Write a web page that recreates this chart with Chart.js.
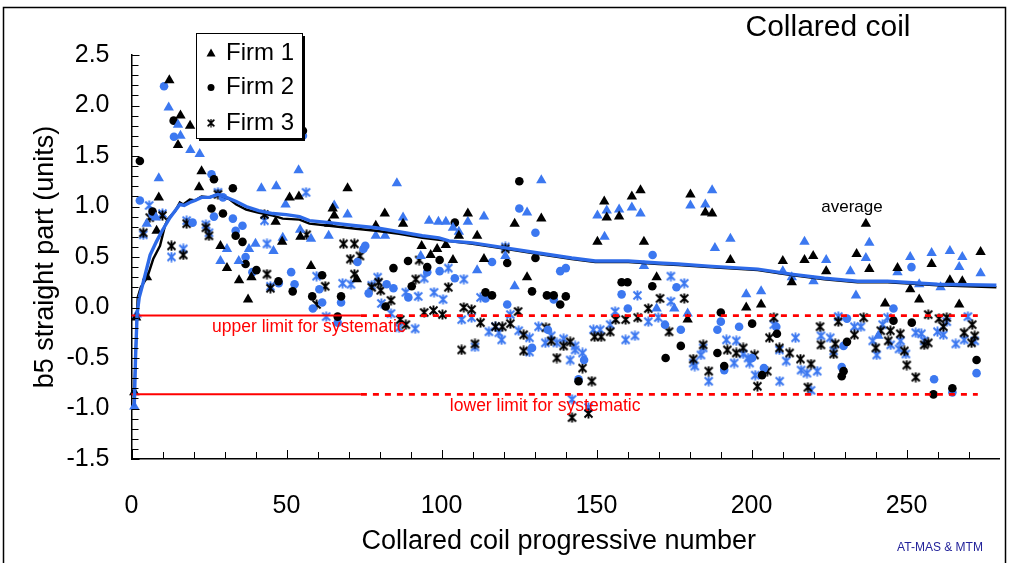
<!DOCTYPE html>
<html><head><meta charset="utf-8">
<script src="https://cdn.jsdelivr.net/npm/chart.js@4.4.0/dist/chart.umd.min.js"></script>
<style>html,body{margin:0;padding:0;background:#fff;overflow:hidden}#wrap{width:1010px;height:563px;position:relative}</style>
</head><body><div id="wrap"><canvas id="c" width="1010" height="563"></canvas></div>
<script>
const FONT = "'Liberation Sans', Arial, Helvetica, sans-serif";
const BLUE = '#3c78f0';
const BLACK = '#000000';
const RED = '#ff0000';

// Axis ticks
const yTickLabels = ['2.5','2.0','1.5','1.0','0.5','0.0','-0.5','-1.0','-1.5'];
const xTickLabels = ['0','50','100','150','200','250'];

// Limits
const upperLimit = -0.08;
const lowerLimit = -0.86;
const limitSolidEnd = 74;
const limitDotEnd = 273;

// Firm 1 (triangles)
const firm1Black = [[0.9,-0.84],[1.5,-0.10],[5,0.30],[8.1,0.76],[8.8,1.09],[12.2,2.25],[15.8,1.90],[15,1.61],[18.9,1.80],[22.6,1.35],[21.8,1.19],[28.7,0.61],[30.8,0.39],[34.7,0.27],[37.6,0.08],[38.7,0.30],[46.5,0.85],[48.6,0.65],[51,1.09],[54,1.10],[54.5,0.70],[57.9,0.41],[63.8,0.83],[64.9,0.98],[65.4,0.91],[69.7,1.18],[72.7,0.28],[78.8,0.81],[81.7,0.93],[87.6,0.83],[93.6,0.61],[96.5,0.52],[98.6,0.58],[101.4,0.62],[103.7,0.47],[105.6,0.71],[108.5,0.93],[111.5,0.71],[113.7,0.48],[123.6,0.83],[127.6,0.30],[132.2,0.88],[150.3,0.65],[152.5,1.05],[153.3,0.89],[157.3,0.90],[161.4,1.10],[164.2,1.16],[165.3,0.65],[169.4,0.30],[179.4,-0.12],[180.3,1.12],[185.1,0.94],[187.3,0.93],[193.2,0.47],[198.3,0.00],[203.1,0.03],[210.1,0.46],[213,0.25],[217.1,0.47],[219.9,0.51],[224.1,0.36],[233.9,0.53],[236.9,0.83],[238,0.38],[243.1,0.04],[247.1,0.39],[251.2,0.18],[254.1,0.08],[258.1,0.43],[264,0.27],[267,0.03],[268,0.26],[273.9,0.55]];
const firm1Blue = [[0.9,-0.98],[1.7,-0.07],[4.9,0.83],[7.9,0.89],[8.8,1.28],[12,1.98],[15,1.81],[15.8,1.70],[19,1.56],[22,1.52],[28.7,0.46],[30.8,0.58],[34.6,0.46],[37.9,0.58],[40,0.63],[41.9,1.18],[45.8,0.56],[46.7,1.20],[48.8,0.69],[49.7,1.02],[53.9,1.36],[54.4,0.77],[57.9,0.68],[63.6,0.71],[65.4,1.01],[69.7,0.92],[78.8,0.71],[81.8,0.71],[85.6,1.23],[87.6,0.89],[93.3,0.51],[96,0.86],[99,0.85],[101.4,0.85],[103.7,0.79],[105.6,0.75],[108.5,0.85],[111.5,0.37],[113.7,0.90],[120.6,0.51],[123.6,0.21],[127.6,0.94],[132.2,1.26],[150.3,0.91],[152.6,0.70],[153.3,0.96],[157.3,0.97],[161.4,0.99],[164.2,0.93],[165.3,0.41],[169.4,-0.01],[175.1,-0.01],[179.4,-0.06],[180.3,1.01],[185.1,1.02],[187.3,1.16],[188.2,0.59],[193.2,0.68],[198.3,0.13],[203.1,0.16],[210.1,0.36],[213,0.30],[217.1,0.65],[220,0.26],[224.1,0.47],[231.9,0.36],[233.7,0.12],[236.9,0.49],[238,0.64],[240.9,-0.28],[247.1,0.35],[251.2,0.50],[254.1,0.23],[258.1,0.54],[261,0.20],[264,0.56],[267,0.40],[268,0.50],[273.9,0.34]];

// Firm 2 (circles)
const firm2Black = [[2.7,1.45],[6.8,0.95],[13.6,1.85],[25.8,0.98],[26.6,1.27],[29.5,0.93],[32.7,1.18],[33.6,0.71],[35.8,0.65],[36.8,0.43],[40.3,0.37],[47.4,0.26],[52,0.16],[55.3,1.75],[58.3,0.11],[61.5,0.32],[66.5,-0.09],[67.6,0.11],[82,0.01],[84.5,0.39],[89.2,0.46],[90.4,0.21],[95.4,0.40],[99.4,0.47],[104.3,0.84],[114.2,0.15],[116.3,0.12],[121.2,0.44],[125.1,1.25],[129.2,0.16],[130.3,0.49],[134,0.12],[136.2,0.12],[138.3,0.03],[140.1,0.11],[144.2,-0.73],[158.1,0.25],[160,0.25],[168,0.21],[172.3,-0.50],[177.2,-0.38],[189,-0.45],[190.1,-0.05],[191.2,-0.58],[200.2,-0.16],[203.4,-0.67],[208.2,-0.26],[229.1,-0.68],[229.7,-0.63],[230.8,-0.34],[245.8,-0.13],[251.7,-0.15],[258.7,-0.86],[264.8,-0.80],[272.6,-0.52]];
const firm2Blue = [[2.7,1.06],[6.8,0.92],[10.5,2.19],[13.7,1.69],[19.7,0.84],[25.8,1.32],[26.6,0.90],[29.5,1.09],[32.7,0.88],[33.6,0.76],[35.8,0.81],[36.8,0.50],[39,0.35],[47.5,0.24],[51.5,0.35],[52.6,0.23],[55.3,1.70],[58.5,-0.01],[60.6,0.18],[61.5,0.05],[66.5,-0.15],[67.6,0.05],[72.9,0.45],[74.8,0.58],[75.4,0.61],[76.5,0.14],[82.3,0.23],[84.5,0.19],[89.3,0.10],[95.4,0.35],[99.4,0.36],[104.3,0.29],[114.2,0.09],[116.3,0.45],[121.2,0.03],[125.1,0.98],[129.2,-0.40],[130.3,0.74],[134.3,-0.22],[136.2,0.08],[138.3,0.36],[140.1,0.39],[144.2,-0.71],[146,-0.52],[158.1,0.13],[160.1,-0.01],[168.1,0.52],[172.1,-0.17],[175.8,0.20],[177.2,-0.22],[189,-0.22],[190.1,-0.14],[191.2,-0.62],[196,-0.19],[200.2,-0.50],[204,-0.60],[208,-0.19],[229.1,-0.59],[229.7,-0.38],[230.8,-0.11],[245.8,-0.01],[251.6,0.40],[258.9,-0.71],[264.8,-0.84],[272.6,-0.65]];

// Firm 3 (stars)
const firm3Black = [[3.8,0.74],[5.9,0.89],[10,0.91],[12.9,0.61],[16.7,0.52],[17.8,0.83],[24,0.79],[25,0.71],[27.9,1.12],[42.9,0.92],[43.7,0.33],[44.8,0.19],[56.5,0.72],[59.7,0.03],[62.5,0.21],[68.4,0.63],[70.6,0.48],[71.9,0.63],[71.9,0.33],[73.7,0.51],[77.5,0.20],[79.7,0.25],[80.4,0.17],[83.7,0.07],[86.7,-0.12],[88.5,-0.17],[91.7,0.28],[92.8,0.47],[94.4,-0.05],[97.4,-0.03],[100.3,-0.07],[102.2,0.20],[106.5,-0.42],[107.2,0.00],[109.7,-0.02],[110.8,-0.36],[112.6,-0.15],[117.4,-0.19],[119.6,-0.19],[120.6,0.58],[122.2,-0.16],[124.7,-0.04],[126.5,-0.27],[126.5,-0.43],[133.7,-0.20],[135.4,-0.33],[137.2,-0.50],[139.4,-0.38],[141.5,-0.34],[142.1,-1.09],[145.5,-0.60],[147.4,-1.05],[148.5,-0.73],[149.4,-0.29],[151.5,-0.29],[154.4,-0.24],[156.2,-0.12],[159.4,-0.12],[163.3,-0.10],[166.7,-0.01],[170.5,0.09],[173.4,-0.24],[178.3,0.09],[181.2,-0.51],[184.4,-0.37],[186.2,-0.63],[192.2,-0.42],[195.1,-0.45],[197.3,-0.40],[201,-0.47],[201.9,-0.78],[205.1,-0.63],[205.8,-0.30],[207.2,-0.10],[209,-0.40],[212.3,-0.45],[215.8,-0.51],[218.2,-0.79],[219.2,-0.56],[222.1,-0.19],[222.4,-0.37],[226.5,-0.46],[227,-0.36],[228,-0.14],[233.2,-0.27],[236.2,-0.10],[240.1,-0.40],[241.7,-0.23],[244.1,-0.33],[244.8,-0.23],[248,-0.26],[249.3,-0.43],[250.1,-0.57],[253,-0.69],[255.7,-0.37],[257,-0.07],[257,-0.35],[260.5,-0.11],[261.9,-0.19],[263,-0.10],[268.6,-0.25],[271,-0.35],[271.2,-0.17],[272,-0.28]];
const firm3Blue = [[3.8,0.72],[5.7,1.01],[10,0.93],[12.9,0.50],[16.7,0.58],[17.8,0.86],[24,0.82],[25,0.74],[27.9,1.14],[42.9,0.86],[43.7,0.63],[44.8,0.21],[56.3,1.14],[59.7,0.31],[62.8,-0.09],[68.1,0.24],[70.8,0.23],[77.5,0.22],[79.4,0.30],[80.6,0.04],[83.7,-0.06],[86.3,-0.20],[88.5,0.15],[91.5,-0.21],[92.5,0.11],[94.4,0.29],[97.6,0.15],[100.5,0.08],[102.2,0.39],[106.5,-0.12],[107.2,0.28],[109.7,-0.10],[110.8,-0.39],[112.6,0.10],[115.3,-0.24],[117.4,-0.19],[118.5,-0.25],[119.4,-0.32],[120.6,0.60],[122.2,-0.07],[124.9,-0.23],[128.4,-0.30],[128.4,-0.44],[131.3,-0.19],[133.5,-0.35],[135.4,-0.28],[137.2,-0.35],[139.4,-0.31],[141.5,-0.52],[142.1,-0.91],[143.1,-0.38],[143.1,-0.42],[145.5,-0.45],[147.4,-0.99],[149,-0.22],[151.2,-0.22],[154.4,-0.17],[156,-0.04],[159.4,-0.32],[162.4,-0.28],[163.2,0.12],[166.7,-0.14],[169.9,-0.10],[174,0.31],[174,0.06],[178.3,0.24],[181.2,-0.55],[181.7,-0.58],[183.7,-0.47],[184.4,-0.40],[186.2,-0.73],[191.9,-0.32],[194.4,-0.55],[195.1,-0.33],[197.3,-0.46],[198.9,-0.50],[199.4,-0.55],[201.2,-0.67],[207.2,-0.17],[209,-0.42],[209.1,-0.73],[211.2,-0.53],[214.2,-0.30],[216,-0.62],[217.9,-0.65],[219.2,-0.82],[221.2,-0.63],[222.4,-0.28],[225.4,-0.30],[226.5,-0.43],[228,-0.09],[233.2,-0.19],[235.3,-0.19],[239.1,-0.33],[240.4,-0.47],[242.3,-0.17],[243.9,-0.10],[244.9,-0.37],[247.6,-0.41],[248.1,-0.33],[249.8,-0.46],[253,-0.25],[254.8,-0.26],[255.7,-0.33],[260,-0.24],[261.9,-0.27],[263,-0.14],[265.9,-0.36],[268.6,-0.32],[269.8,-0.09],[272,-0.33]];

// Running averages
const avgBlack = [[0.9,-0.85],[1.3,-0.5],[2,0.1],[3,0.2],[5.1,0.30],[7,0.48],[9.2,0.61],[10.8,0.81],[11.8,0.88],[14,0.95],[15.6,1.04],[16.7,1.02],[18.8,1.07],[20.5,1.06],[22.6,1.10],[25.2,1.09],[27.9,1.12],[31.7,1.07],[33.8,1.02],[37,0.97],[40.8,0.94],[45.6,0.91],[48.8,0.88],[54.2,0.87],[57.4,0.83],[63.8,0.81],[72.4,0.78],[78.8,0.76],[86.3,0.73],[93.8,0.69],[99.2,0.67],[110,0.63],[120.6,0.58],[131.3,0.53],[142,0.48],[149.6,0.45],[160.3,0.45],[170,0.43],[176.4,0.42],[186,0.40],[202,0.37],[212.8,0.32],[223.5,0.28],[234.2,0.25],[243.9,0.25],[260,0.22],[279,0.20]];
const avgBlue = [[0.9,-0.98],[1.3,-0.5],[1.8,-0.07],[2.5,0.1],[3.8,0.25],[6,0.52],[8,0.65],[9.7,0.75],[12.4,0.89],[15.6,1.02],[17,1.01],[18.8,1.04],[20.5,1.06],[22.6,1.09],[25.2,1.09],[27.9,1.12],[30.6,1.09],[33.8,1.05],[37,1.0],[41,0.96],[45.6,0.93],[49.9,0.92],[54.2,0.90],[57.4,0.86],[63.8,0.84],[72.4,0.81],[78.8,0.79],[86.3,0.75],[93.8,0.71],[99.2,0.69],[102.4,0.66],[110,0.64],[120.6,0.59],[131.3,0.54],[142,0.49],[149.6,0.46],[160.3,0.46],[170,0.44],[176.4,0.43],[186,0.41],[202,0.38],[212.8,0.33],[223.5,0.29],[234.2,0.26],[243.9,0.26],[260,0.23],[279,0.22]];

const pts = a => a.map(p => ({x:p[0], y:p[1]}));

function starImage(color){
  const c = document.createElement('canvas'); c.width = 11; c.height = 11;
  const g = c.getContext('2d'); g.strokeStyle = color; g.lineWidth = 1.9; g.lineCap = 'butt';
  g.beginPath();
  g.moveTo(1.5,1.5); g.lineTo(9.5,9.5); g.moveTo(9.5,1.5); g.lineTo(1.5,9.5);
  g.moveTo(5.5,0.5); g.lineTo(5.5,10.5);
  g.stroke();
  return c;
}
const starBlack = starImage(BLACK), starBlue = starImage(BLUE);

function scatterSet(label, data, color, style, r){
  return {type:'scatter', label, data: pts(data), pointStyle: style, pointRadius: r, pointHoverRadius: r,
    backgroundColor: color, borderColor: color, borderWidth: 0, order: 5};
}
function lineSet(label, data, color, w, dash){
  return {type:'scatter', label, data: pts(data), showLine:true, pointRadius:0, borderColor: color,
    borderWidth: w, borderDash: dash || [], fill:false, tension:0, order: 1};
}

const decor = {
  id:'decor',
  beforeDraw(chart){
    const ctx = chart.ctx; ctx.save(); ctx.fillStyle='#fff'; ctx.fillRect(0,0,chart.width,chart.height); ctx.restore();
  },
  afterDraw(chart){
    const ctx = chart.ctx, xs = chart.scales.x, ys = chart.scales.y;
    ctx.save();
    ctx.strokeStyle = '#000'; ctx.lineWidth = 1;
    ctx.beginPath();
    for (let i = 0; i <= 40; i++){
      const v = -1.5 + i*0.1;
      const py = Math.round(ys.getPixelForValue(v)) + 0.5;
      const len = (i % 5 === 0) ? 8 : 7;
      ctx.moveTo(xs.left, py); ctx.lineTo(xs.left + len, py);
    }
    for (let v = 0; v <= 270; v += 10){
      const px = Math.round(xs.getPixelForValue(v)) + 0.5;
      const len = (v % 50 === 0) ? 9 : 7;
      ctx.moveTo(px, ys.bottom); ctx.lineTo(px, ys.bottom - len);
    }
    ctx.stroke();
    ctx.lineWidth = 1.5; ctx.strokeStyle = '#000';
    ctx.strokeRect(3.5, 7.5, 1002, 620);
    ctx.fillStyle = RED; ctx.font = '17.5px ' + FONT; ctx.textBaseline = 'middle'; ctx.textAlign = 'left';
    ctx.fillText('upper limit for systematic', xs.getPixelForValue(26), ys.getPixelForValue(-0.19));
    ctx.fillText('lower limit for systematic', xs.getPixelForValue(102.7), ys.getPixelForValue(-0.975));
    ctx.fillStyle = '#000'; ctx.font = '17px ' + FONT; ctx.textAlign = 'center';
    ctx.fillText('average', xs.getPixelForValue(232.4), ys.getPixelForValue(0.995));
    ctx.font = '30px ' + FONT; ctx.fillText('Collared coil', 828, 28);
    ctx.fillStyle = '#22229a'; ctx.font = '12px ' + FONT; ctx.fillText('AT-MAS & MTM', 940, 548);
    const L = 196, T = 33, W = 106, H = 105;
    ctx.fillStyle = '#000'; ctx.fillRect(L + 3, T + 3, W, H);
    ctx.fillStyle = '#fff'; ctx.fillRect(L, T, W, H);
    ctx.lineWidth = 1; ctx.strokeStyle = '#000'; ctx.strokeRect(L + 0.5, T + 0.5, W, H);
    const items = [['Firm 1', 'tri', 53], ['Firm 2', 'circ', 87.5], ['Firm 3', 'star', 123]];
    ctx.font = '24px ' + FONT; ctx.textAlign = 'left'; ctx.textBaseline = 'middle';
    items.forEach(([txt, kind, y]) => {
      const mx = 211;
      ctx.fillStyle = '#000';
      if (kind === 'tri'){ ctx.beginPath(); ctx.moveTo(mx, y-4.5); ctx.lineTo(mx+4.5, y+3.5); ctx.lineTo(mx-4.5, y+3.5); ctx.closePath(); ctx.fill(); }
      else if (kind === 'circ'){ ctx.beginPath(); ctx.arc(mx, y, 3.5, 0, Math.PI*2); ctx.fill(); }
      else { ctx.drawImage(starBlack, mx-4.5, y-4.5, 9, 9); }
      ctx.fillText(txt, 226, y);
    });
    ctx.restore();
  }
};

new Chart(document.getElementById('c'), {
  type: 'scatter',
  data: { datasets: [
    lineSet('avg blue', avgBlue, '#2d6ae8', 3.4),
    lineSet('avg black', avgBlack, BLACK, 2.4),
    lineSet('upper solid', [[0, upperLimit],[limitSolidEnd, upperLimit]], RED, 2),
    lineSet('upper dotted', [[limitSolidEnd, upperLimit],[limitDotEnd, upperLimit]], RED, 2.6, [6,6]),
    lineSet('lower solid', [[0, lowerLimit],[limitSolidEnd, lowerLimit]], RED, 2),
    lineSet('lower dotted', [[limitSolidEnd, lowerLimit],[limitDotEnd, lowerLimit]], RED, 2.6, [6,6]),
    scatterSet('Firm 1', firm1Black, BLACK, 'triangle', 6),
    scatterSet('Firm 1 b', firm1Blue, BLUE, 'triangle', 6),
    scatterSet('Firm 2', firm2Black, BLACK, 'circle', 4.3),
    scatterSet('Firm 2 b', firm2Blue, BLUE, 'circle', 4.3),
    scatterSet('Firm 3', firm3Black, BLACK, starBlack, 5.5),
    scatterSet('Firm 3 b', firm3Blue, BLUE, starBlue, 5.5)
  ]},
  options: {
    responsive: false, animation: false, clip: false,
    layout: { padding: { left: 0, right: 10.5, top: 55, bottom: 0 } },
    plugins: { legend: { display: false }, tooltip: { enabled: false } },
    scales: {
      x: {
        type: 'linear', min: 0, max: 280,
        grid: { display: false },
        border: { display: true, color: '#000', width: 1.5 },
        afterBuildTicks: s => { s.ticks = xTickLabels.map(t => ({ value: parseFloat(t) })); },
        ticks: { color: '#000', font: { family: FONT, size: 25 }, padding: 24, maxRotation: 0,
                 callback: (v) => xTickLabels.includes(String(v)) ? String(v) : '' },
        afterFit: s => { s.height = 104; },
        title: { display: true, text: 'Collared coil progressive number\u2002', color: '#000',
                 font: { family: FONT, size: 27 }, padding: { top: 0, bottom: 5 } }
      },
      y: {
        type: 'linear', min: -1.5, max: 2.5,
        grid: { display: false },
        border: { display: true, color: '#000', width: 1.5 },
        afterBuildTicks: s => { s.ticks = yTickLabels.map(t => ({ value: parseFloat(t) })); },
        ticks: { color: '#000', font: { family: FONT, size: 25 }, padding: 14,
                 callback: (v) => { const t = yTickLabels.find(l => Math.abs(parseFloat(l) - v) < 1e-9); return t === undefined ? '' : t; } },
        afterFit: s => { s.width = 131.5; },
        title: { display: true, text: 'b5 straight part (units)', color: '#000',
                 font: { family: FONT, size: 27 }, padding: { top: 29, bottom: 0 } }
      }
    }
  },
  plugins: [decor]
});
</script></body></html>
